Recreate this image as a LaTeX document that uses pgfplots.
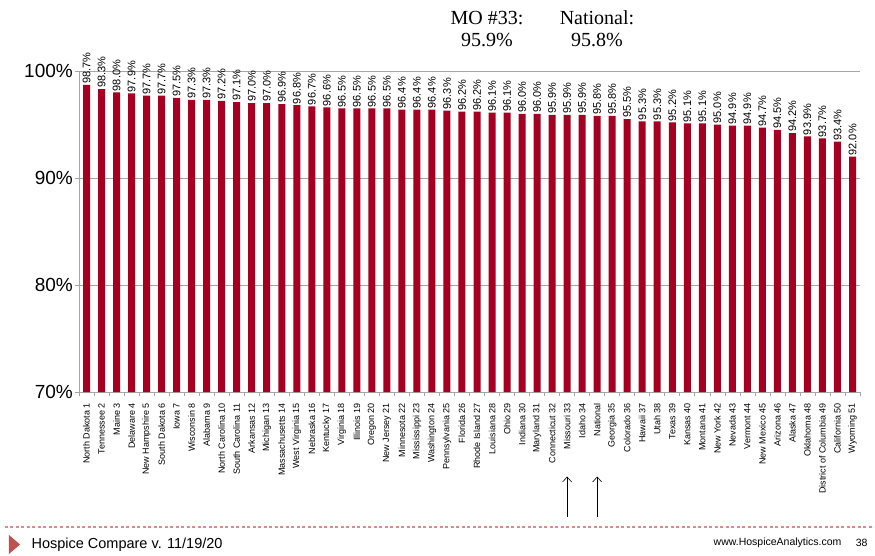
\documentclass[border=0pt]{standalone}
\usepackage{pgfplots}
\pgfplotsset{compat=1.18}
\usepackage{pgfplotstable}
\usetikzlibrary{arrows.meta}
\usepackage{fontspec}
\setmainfont{Liberation Sans}
\newfontfamily\seriffont{Liberation Serif}
\definecolor{barred}{HTML}{A50021}
\definecolor{gridgray}{HTML}{A6A6A6}
\definecolor{dashred}{HTML}{D98C8C}
\definecolor{trired}{HTML}{C0504D}
\pgfplotstableread{
x y
0 98.7
1 98.3
2 98.0
3 97.9
4 97.7
5 97.7
6 97.5
7 97.3
8 97.3
9 97.2
10 97.1
11 97.0
12 97.0
13 96.9
14 96.8
15 96.7
16 96.6
17 96.5
18 96.5
19 96.5
20 96.5
21 96.4
22 96.4
23 96.4
24 96.3
25 96.2
26 96.2
27 96.1
28 96.1
29 96.0
30 96.0
31 95.9
32 95.9
33 95.9
34 95.8
35 95.8
36 95.5
37 95.3
38 95.3
39 95.2
40 95.1
41 95.1
42 95.0
43 94.9
44 94.9
45 94.7
46 94.5
47 94.2
48 93.9
49 93.7
50 93.4
51 92.0
}\datatable
\begin{document}
\begin{tikzpicture}
\useasboundingbox (-79pt,-163pt) rectangle (796pt,392pt);
\begin{axis}[
  at={(0pt,0pt)}, anchor=south west,
  scale only axis, width=781pt, height=321pt,
  xmin=-0.5, xmax=51.5, ymin=70, ymax=100,
  axis x line*=bottom, axis y line*=left,
  axis line style={gridgray, line width=0.8pt},
  tick align=outside,
  ytick={70,80,90,100},
  yticklabels={70\%,80\%,90\%,100\%},
  yticklabel style={font=\fontsize{19}{19}\selectfont, inner sep=2pt},
  ytick style={gridgray, line width=0.8pt},
  major tick length=4pt,
  ymajorgrids, grid style={gridgray, line width=0.8pt},
  xtick=data,
  major x tick style={draw=none},
  minor xtick={-0.5,0.5,...,51.5},
  minor x tick style={gridgray, line width=0.6pt},
  minor tick length=4pt,
  xticklabels={{North Dakota 1},{Tennessee 2},{Maine 3},{Delaware 4},{New Hampshire 5},{South Dakota 6},{Iowa 7},{Wisconsin 8},{Alabama 9},{North Carolina 10},{South Carolina 11},{Arkansas 12},{Michigan 13},{Massachusetts 14},{West Virginia 15},{Nebraska 16},{Kentucky 17},{Virginia 18},{Illinois 19},{Oregon 20},{New Jersey 21},{Minnesota 22},{Mississippi 23},{Washington 24},{Pennsylvania 25},{Florida 26},{Rhode Island 27},{Louisiana 28},{Ohio 29},{Indiana 30},{Maryland 31},{Connecticut 32},{Missouri 33},{Idaho 34},{National},{Georgia 35},{Colorado 36},{Hawaii 37},{Utah 38},{Texas 39},{Kansas 40},{Montana 41},{New York 42},{Nevada 43},{Vermont 44},{New Mexico 45},{Arizona 46},{Alaska 47},{Oklahoma 48},{District of Columbia 49},{California 50},{Wyoming 51}},
  xticklabel style={rotate=90, anchor=east, font=\fontsize{9}{9}\selectfont, inner sep=1pt},
  xticklabel shift=6pt,
  clip=false,
  /pgf/number format/assume math mode=true,
  nodes near coords={\pgfmathprintnumber[fixed,fixed zerofill,precision=1]{\pgfplotspointmeta}\%},
  every node near coord/.append style={rotate=90, anchor=west, font=\fontsize{11}{11}\selectfont, inner sep=1pt, text=black},
]
\addplot[ybar, bar width=7pt, fill=barred, draw=none] table[x=x,y=y] {\datatable};
\draw[-{Straight Barb[length=5pt,width=9pt]}, line width=0.6pt] (axis cs:32,58.3) -- (axis cs:32,62.1);
\draw[-{Straight Barb[length=5pt,width=9pt]}, line width=0.6pt] (axis cs:34,58.3) -- (axis cs:34,62.1);
\end{axis}
\begin{scope}[shift={(-79pt,-163pt)}, x=1pt, y=1pt]
\node[font=\seriffont\fontsize{20}{22}\selectfont, align=center] at (487,526) {MO \#33:\\95.9\%};
\node[font=\seriffont\fontsize{20}{22}\selectfont, align=center] at (597,526) {National:\\95.8\%};
\draw[dashred, line width=1.2pt, dash pattern=on 3pt off 2.5pt] (5,28) -- (872,28);
\fill[trired] (9,20) -- (9,1) -- (20,10.5) -- cycle;
\node[anchor=west, font=\fontsize{14.5}{14.5}\selectfont] at (28,10) {Hospice Compare v. 11/19/20};
\node[anchor=east, font=\fontsize{10.5}{10.5}\selectfont] at (845,12) {www.HospiceAnalytics.com};
\node[anchor=east, font=\fontsize{10.5}{10.5}\selectfont] at (871,12) {38};
\end{scope}
\end{tikzpicture}
\end{document}
